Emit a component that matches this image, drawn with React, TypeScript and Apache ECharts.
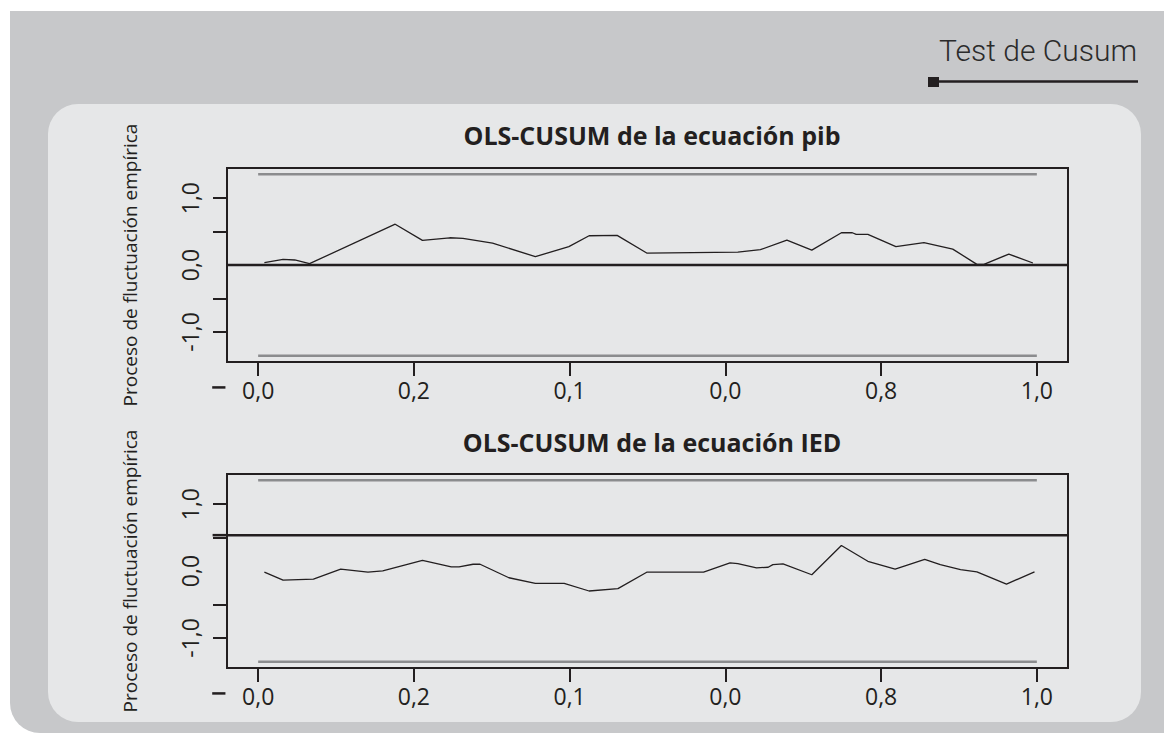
import React, { useEffect, useRef } from "react";
import * as echarts from "echarts";

// ---- texts ----
const headerTitle = "Test de Cusum";
const panelTitles = ["OLS-CUSUM de la ecuación pib", "OLS-CUSUM de la ecuación IED"];
const yAxisName = "Proceso de fluctuación empírica";

// ---- axis ticks / labels ----
const xTickValues = [0, 0.2, 0.4, 0.6, 0.8, 1.0];
const xTickLabels = ["0,0", "0,2", "0,1", "0,0", "0,8", "1,0"];
const yTickValues = [-1, -0.5, 0.5, 1];
const yLabelValues = [-1, 0, 1];
const yLabelTexts = ["-1,0", "0,0", "1,0"];

// ---- empirical fluctuation process: pib ----
const pibX = [0.008, 0.032, 0.047, 0.066, 0.176, 0.211, 0.246, 0.263, 0.301, 0.356, 0.399, 0.425, 0.461, 0.499, 0.616, 0.645, 0.679, 0.711, 0.749, 0.763, 0.768, 0.783, 0.819, 0.855, 0.892, 0.923, 0.932, 0.964, 0.995];
const pibY = [0.036, 0.085, 0.075, 0.02, 0.61, 0.368, 0.407, 0.397, 0.327, 0.125, 0.274, 0.437, 0.442, 0.179, 0.193, 0.229, 0.372, 0.223, 0.482, 0.482, 0.457, 0.457, 0.274, 0.333, 0.238, 0.01, 0.01, 0.164, 0.03];

// ---- empirical fluctuation process: IED ----
const iedX = [0.008, 0.032, 0.071, 0.106, 0.141, 0.16, 0.211, 0.248, 0.258, 0.276, 0.285, 0.322, 0.356, 0.393, 0.425, 0.462, 0.499, 0.572, 0.606, 0.616, 0.64, 0.655, 0.661, 0.674, 0.711, 0.749, 0.783, 0.818, 0.856, 0.876, 0.902, 0.923, 0.961, 0.997];
const iedY = [-0.018, -0.136, -0.121, 0.027, -0.018, 0.003, 0.16, 0.062, 0.062, 0.101, 0.101, -0.101, -0.185, -0.185, -0.299, -0.264, -0.018, -0.018, 0.121, 0.111, 0.047, 0.056, 0.096, 0.106, -0.056, 0.382, 0.145, 0.027, 0.175, 0.096, 0.022, -0.012, -0.196, -0.012];

// ---- boundaries and reference lines ----
const boundaryX = [0, 1];
const boundaryLevel = 1.358;
const pibRefX = [-0.04, 1.04];
const pibRefLevel = 0;
const iedRefX = [-0.0585, 1.04];
const iedRefLevel = 0.536;
const stubX = [-0.059, -0.042];
const stubLevel = -1.83;

const X_MIN = -0.04;
const X_MAX = 1.04;
const Y_MIN = -1.45;
const Y_MAX = 1.45;

const INK = "#231f20";
const BOUND = "#8b8c8e";
const FONT = "'Open Sans', 'Noto Sans', sans-serif";

const zip = (xs: number[], ys: number[]) => xs.map((x, i) => [x, ys[i]]);
const flat = (xs: number[], y: number) => xs.map((x) => [x, y]);
const nearestLabel = (vals: number[], texts: string[], v: number) => {
  let best = 0;
  vals.forEach((t, i) => {
    if (Math.abs(t - v) < Math.abs(vals[best] - v)) best = i;
  });
  return texts[best];
};

export default function App() {
  const ref = useRef<HTMLDivElement>(null);

  useEffect(() => {
    if (!ref.current) return;
    const chart = echarts.init(ref.current, null, { renderer: "svg" });

    const grids = [
      { left: 227, right: 96, top: 168, height: 194 },
      { left: 227, right: 96, top: 474, height: 194 },
    ];

    const xAxisFor = (gi: number) => ({
      type: "value",
      gridIndex: gi,
      min: X_MIN,
      max: X_MAX,
      axisLine: { show: false, onZero: false },
      splitLine: { show: false },
      axisTick: {
        show: true,
        length: 14,
        customValues: xTickValues,
        lineStyle: { color: INK, width: 2 },
      },
      axisLabel: {
        show: true,
        customValues: xTickValues,
        margin: 16,
        color: INK,
        fontFamily: FONT,
        fontSize: 23,
        formatter: (v: number) => nearestLabel(xTickValues, xTickLabels, v),
      },
    });

    const yAxisFor = (gi: number) => ({
      type: "value",
      gridIndex: gi,
      min: Y_MIN,
      max: Y_MAX,
      name: yAxisName,
      nameLocation: "middle",
      nameRotate: 90,
      nameGap: 88,
      nameTextStyle: { color: INK, fontFamily: FONT, fontSize: 19 },
      axisLine: { show: false, onZero: false },
      splitLine: { show: false },
      axisTick: {
        show: true,
        length: 14,
        customValues: yTickValues,
        lineStyle: { color: INK, width: 2 },
      },
      axisLabel: {
        show: true,
        rotate: 90,
        customValues: yLabelValues,
        margin: 26,
        color: INK,
        fontFamily: FONT,
        fontSize: 23,
        formatter: (v: number) => nearestLabel(yLabelValues, yLabelTexts, v),
      },
    });

    const lineSeries = (name: string, gi: number, data: number[][], color: string, width: number) => ({
      name,
      type: "line",
      xAxisIndex: gi,
      yAxisIndex: gi,
      data,
      symbol: "none",
      showSymbol: false,
      silent: true,
      clip: true,
      lineStyle: { color, width },
      z: 3,
    });

    const baseGraphic: any[] = [
      {
        type: "rect",
        id: "outerBg",
        z: -20,
        silent: true,
        shape: { x: 10, y: 11, width: 1170, height: 722, r: [0, 16, 0, 30] },
        style: { fill: "#c7c8ca" },
      },
      {
        type: "rect",
        id: "innerBg",
        z: -10,
        silent: true,
        shape: { x: 48, y: 104, width: 1093, height: 618, r: 30 },
        style: { fill: "#e6e7e8" },
      },
      {
        type: "text",
        id: "header",
        z: 5,
        silent: true,
        style: {
          text: headerTitle,
          x: 1137,
          y: 50,
          align: "right",
          verticalAlign: "middle",
          fill: "#2b2b2b",
          font: "300 30px Roboto, 'Open Sans', sans-serif",
        },
      },
      {
        type: "rect",
        id: "headerMark",
        z: 5,
        silent: true,
        shape: { x: 928, y: 77, width: 11, height: 10 },
        style: { fill: INK },
      },
      {
        type: "line",
        id: "headerRule",
        z: 5,
        silent: true,
        shape: { x1: 936, y1: 81.5, x2: 1138, y2: 81.5 },
        style: { stroke: INK, lineWidth: 2.5 },
      },
    ];

    const option = {
      animation: false,
      grid: grids.map((g) => ({
        ...g,
        show: true,
        borderColor: INK,
        borderWidth: 2,
        backgroundColor: "transparent",
      })),
      title: panelTitles.map((t, i) => ({
        text: t,
        left: 647,
        top: i === 0 ? 117 : 424,
        textAlign: "center",
        textStyle: { color: INK, fontFamily: FONT, fontWeight: "bold", fontSize: 25 },
      })),
      xAxis: [xAxisFor(0), xAxisFor(1)],
      yAxis: [yAxisFor(0), yAxisFor(1)],
      series: [
        lineSeries("pib upper", 0, flat(boundaryX, boundaryLevel), BOUND, 2.5),
        lineSeries("pib lower", 0, flat(boundaryX, -boundaryLevel), BOUND, 2.5),
        lineSeries("pib ref", 0, flat(pibRefX, pibRefLevel), INK, 2.5),
        lineSeries("pib", 0, zip(pibX, pibY), INK, 1.3),
        lineSeries("ied upper", 1, flat(boundaryX, boundaryLevel), BOUND, 2.5),
        lineSeries("ied lower", 1, flat(boundaryX, -boundaryLevel), BOUND, 2.5),
        lineSeries("ied ref", 1, flat([X_MIN, iedRefX[1]], iedRefLevel), INK, 2.5),
        lineSeries("ied", 1, zip(iedX, iedY), INK, 1.3),
      ],
      graphic: baseGraphic,
    };

    chart.setOption(option as any);

    // marks that sit outside the plotting frame: positioned through the axes' scales
    const toPx = (gi: number, p: number[]) => chart.convertToPixel({ gridIndex: gi } as any, p) as number[];
    const outside = [
      { gi: 0, xs: stubX, y: stubLevel },
      { gi: 1, xs: stubX, y: stubLevel },
      { gi: 1, xs: [iedRefX[0], X_MIN], y: iedRefLevel },
    ];
    const extra = outside.map((s, k) => {
      const a = toPx(s.gi, [s.xs[0], s.y]);
      const b = toPx(s.gi, [s.xs[1], s.y]);
      return {
        type: "line",
        id: "outside" + k,
        z: 5,
        silent: true,
        shape: { x1: a[0], y1: a[1], x2: b[0], y2: b[1] },
        style: { stroke: INK, lineWidth: 2.5 },
      };
    });
    chart.setOption({ graphic: [...baseGraphic, ...extra] } as any);

    return () => chart.dispose();
  }, []);

  return (
    <div
      ref={ref}
      style={{ position: "fixed", left: 0, top: 0, width: 1164, height: 735, background: "#ffffff" }}
    />
  );
}
